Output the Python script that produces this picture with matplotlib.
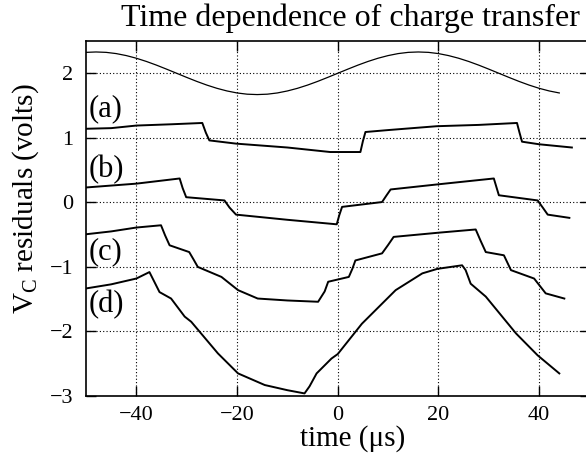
import matplotlib
matplotlib.use("Agg")
import matplotlib.pyplot as plt

plt.rcParams['font.family'] = ['Liberation Serif', 'DejaVu Serif']
plt.rcParams['mathtext.fontset'] = 'custom'
plt.rcParams['mathtext.rm'] = 'Liberation Serif'
plt.rcParams['mathtext.it'] = 'Liberation Serif:italic'

# reference sine (drive signal)
sine_t = [-50, -48, -46, -44, -42, -40, -38, -36, -34, -32, -30, -28, -26, -24,
          -22, -20, -18, -16, -14, -12, -10, -8, -6, -4, -2, 0, 2, 4, 6, 8, 10,
          12, 14, 16, 18, 20, 22, 24, 26, 28, 30, 32, 34, 36, 38, 40, 42, 44]
sine_v = [2.324, 2.33, 2.324, 2.305, 2.274, 2.233, 2.183, 2.126, 2.064, 2.0,
          1.936, 1.874, 1.817, 1.767, 1.726, 1.695, 1.676, 1.67, 1.676, 1.695,
          1.726, 1.767, 1.817, 1.874, 1.936, 2.0, 2.064, 2.126, 2.183, 2.233,
          2.274, 2.305, 2.324, 2.33, 2.324, 2.305, 2.274, 2.233, 2.183, 2.126,
          2.064, 2.0, 1.936, 1.874, 1.817, 1.767, 1.726, 1.695]

# residual traces (breakpoints)
a_t = [-50.1, -45, -40, -33, -26.9, -26.2, -25.5, -20.2, -10, -1.5, 4.5, 5.0, 5.5,
       10, 19.7, 28, 35.6, 36.1, 36.6, 40, 46.5]
a_v = [1.14, 1.15, 1.19, 1.21, 1.23, 1.08, 0.96, 0.91, 0.85, 0.78, 0.78, 0.95, 1.09,
       1.12, 1.18, 1.20, 1.23, 1.08, 0.94, 0.90, 0.85]

b_t = [-50.1, -40, -31.4, -30.8, -30.1, -22.5, -21.5, -20.2, -10, -0.2, 0.3, 0.86,
       8.8, 9.7, 10.5, 20, 31.0, 31.5, 32.0, 39.7, 40.8, 41.7, 46]
b_v = [0.23, 0.29, 0.37, 0.22, 0.08, 0.03, -0.08, -0.19, -0.27, -0.34, -0.2, -0.07,
       0.005, 0.11, 0.20, 0.28, 0.37, 0.24, 0.11, 0.03, -0.09, -0.19, -0.24]

c_t = [-50.1, -45, -40, -35.1, -34.3, -33.4, -29.5, -28.6, -27.8, -23.1, -19.8,
       -15.9, -10, -3.9, -2.6, -1.9, 2.2, 2.9, 3.5, 8.8, 10.0, 11.1, 20, 27.4, 28.4,
       29.4, 33.0, 34.4, 39.0, 41.3, 45]
c_v = [-0.495, -0.45, -0.39, -0.355, -0.51, -0.665, -0.77, -0.89, -1.0, -1.155,
       -1.36, -1.49, -1.52, -1.54, -1.38, -1.23, -1.155, -1.03, -0.90, -0.79, -0.66,
       -0.535, -0.47, -0.42, -0.6, -0.77, -0.82, -1.05, -1.18, -1.41, -1.49]

d_t = [-50.1, -45, -40, -37.4, -35.4, -33.1, -30.4, -29.1, -23.8, -19.8, -14.5,
       -10, -6.6, -5.6, -4.2, -1.25, 0, 4.8, 11.5, 16.8, 19.8, 24.7, 25.4, 26.4,
       29.4, 35.4, 39.7, 44]
d_v = [-1.335, -1.27, -1.18, -1.08, -1.39, -1.49, -1.77, -1.85, -2.34, -2.65, -2.83,
       -2.91, -2.96, -2.85, -2.65, -2.42, -2.35, -1.88, -1.36, -1.10, -1.03, -0.975,
       -1.05, -1.26, -1.46, -2.03, -2.37, -2.65]

trace_labels = ['(a)', '(b)', '(c)', '(d)']
label_y = [1.45, 0.51, -0.76, -1.59]

xticks = [-40, -20, 0, 20, 40]
yticks = [-3, -2, -1, 0, 1, 2]

fig = plt.figure(figsize=(5.86, 4.55), dpi=100)
ax = fig.add_axes([86 / 586, 59 / 455, 503.5 / 586, 355 / 455])

ax.plot(sine_t, sine_v, color='black', lw=0.9)
for t, v in [(a_t, a_v), (b_t, b_v), (c_t, c_v), (d_t, d_v)]:
    ax.plot(t, v, color='black', lw=1.4)

for lab, y in zip(trace_labels, label_y):
    ax.text(-49.5, y, lab, fontsize=22, ha='left', va='center')

ax.set_xlim(-50, 50)
ax.set_ylim(-3, 2.5)
ax.set_xticks(xticks)
ax.set_yticks(yticks)
ax.grid(True, color='black', linestyle=(0, (1, 2)), lw=0.8)
ax.tick_params(direction='in', length=7, width=1, labelsize=16,
               top=True, right=True)
ax.tick_params(axis='x', pad=7)
ax.tick_params(axis='y', pad=9)
for sp in ax.spines.values():
    sp.set_linewidth(1.2)

fig.text(350 / 586, 1 - 18 / 455, 'Time dependence of charge transfer',
         fontsize=23, ha='center', va='center')
fig.text(353 / 586, 1 - 439 / 455, 'time (\u03bcs)', fontsize=21,
         ha='center', va='center')
fig.text(26 / 586, 1 - 199 / 455, r'V$_\mathrm{C}$ residuals (volts)',
         fontsize=21, ha='center', va='center', rotation=90)

fig.savefig('out.png', dpi=100)
